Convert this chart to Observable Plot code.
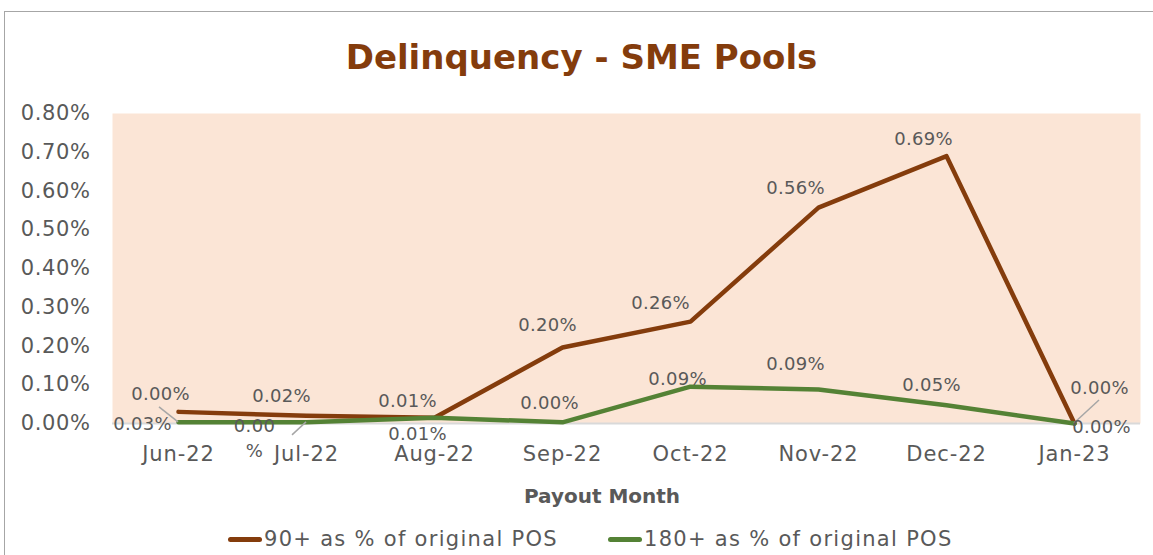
<!DOCTYPE html>
<html>
<head>
<meta charset="utf-8">
<script src="https://cdn.jsdelivr.net/npm/d3@7"></script>
<script src="https://cdn.jsdelivr.net/npm/@observablehq/plot@0.6"></script>
<style>
  html, body { margin: 0; padding: 0; background: #fff; }
  body { width: 1153px; height: 555px; overflow: hidden; position: relative; font-family: "DejaVu Sans", sans-serif; }
  #border { position: absolute; left: 4px; top: 11px; width: 1170px; height: 570px; border: 1.5px solid #A6A6A6; box-sizing: border-box; }
  #chart { position: absolute; left: 0; top: 0; }
  #title { position: absolute; left: 0; width: 1153px; top: 37px; text-align: center; font-weight: bold; font-size: 34px; color: #843C0C; padding-left: 10px; box-sizing: border-box; }
  #xlabel { position: absolute; left: 452px; width: 300px; top: 484px; text-align: center; font-weight: bold; font-size: 20px; color: #595959; }
  .leg { position: absolute; top: 527px; font-size: 21px; letter-spacing: 1.3px; color: #595959; display: flex; align-items: center; white-space: nowrap; }
  .sw { width: 34px; height: 5px; border-radius: 3px; margin-right: 2px; }
  g[aria-label="x-axis tick label"] text { letter-spacing: 0.9px; }
  g[aria-label="y-axis tick label"] text { letter-spacing: 0.6px; }
  g[aria-label="text"] text { letter-spacing: 0.3px; }
</style>
</head>
<body>
<div id="border"></div>
<div id="chart"></div>
<div id="title">Delinquency - SME Pools</div>
<div id="xlabel">Payout Month</div>
<div class="leg" style="left:228px"><div class="sw" style="background:#843C0C"></div>90+ as % of original POS</div>
<div class="leg" style="left:608px"><div class="sw" style="background:#548235"></div>180+ as % of original POS</div>
<script>
const months = ["Jun-22", "Jul-22", "Aug-22", "Sep-22", "Oct-22", "Nov-22", "Dec-22", "Jan-23"];
const dpd90 = [0.0003, 0.0002, 0.00015, 0.00196, 0.00263, 0.00557, 0.00690, 0.0000];
const dpd180 = [0.00003, 0.00003, 0.00015, 0.00003, 0.00095, 0.00088, 0.00047, 0.0000];
const labels90 = ["0.03%", "0.02%", "0.01%", "0.20%", "0.26%", "0.56%", "0.69%", "0.00%"];
const labels180 = ["0.00%", "0.00\n%", "0.01%", "0.00%", "0.09%", "0.09%", "0.05%", "0.00%"];
const yTicks = [0, 0.001, 0.002, 0.003, 0.004, 0.005, 0.006, 0.007, 0.008];

// label placement (pixel offsets from the point), mimicking the spreadsheet's label layout
const off90 = [[-36, 10], [-25, -22], [-27, -19], [-15, -25], [-30, -21], [-23, -22], [-23, -19], [27, 1]];
const off180 = [[-18, -30], [-52, 14], [-17, 14], [-13, -21], [-13, -10], [-23, -27], [-15, -22], [25, -38]];
const leaders = [ // [series, index, from-offset]
  ["180", 0, [-19, -15]],
  ["180", 1, [-14, 13]],
  ["180", 7, [25, -23]]
];

const rows = [];
months.forEach((m, i) => {
  rows.push({month: m, value: dpd90[i], series: "90+ as % of original POS", label: labels90[i], dx: off90[i][0], dy: off90[i][1]});
  rows.push({month: m, value: dpd180[i], series: "180+ as % of original POS", label: labels180[i], dx: off180[i][0], dy: off180[i][1]});
});
const s90 = rows.filter(d => d.series.startsWith("90"));
const s180 = rows.filter(d => d.series.startsWith("180"));

const font = "DejaVu Sans, sans-serif";
const textMarks = rows.map(d => Plot.text([d], {
  x: "month", y: "value", text: "label", dx: d.dx, dy: d.dy,
  fill: "#595959", fontSize: 18, fontFamily: font, lineHeight: 1.4
}));

const leaderMark = (index, scales) => {
  const g = d3.create("svg:g");
  for (const [s, i, [ox, oy]] of leaders) {
    const v = s === "90" ? dpd90[i] : dpd180[i];
    const px = scales.x(months[i]);
    const py = scales.y(v);
    g.append("line")
      .attr("x1", px + ox).attr("y1", py + oy)
      .attr("x2", px).attr("y2", py)
      .attr("stroke", "#A6A6A6").attr("stroke-width", 1.5);
  }
  return g.node();
};

const chart = Plot.plot({
  width: 1153,
  height: 555,
  marginLeft: 112,
  marginRight: 13,
  marginTop: 113,
  marginBottom: 132,
  style: {fontFamily: font, background: "transparent", overflow: "visible"},
  x: {type: "point", domain: months, padding: 0.5, label: null},
  y: {domain: [0, 0.008], label: null},
  marks: [
    Plot.frame({fill: "#FBE5D6", stroke: null}),
    Plot.ruleY([0], {stroke: "#D9D9D9", strokeWidth: 2}),
    Plot.axisY({ticks: yTicks, tickFormat: d3.format(".2%"), tickSize: 0, tickPadding: 22, fontSize: 21, fill: "#595959", label: null}),
    Plot.axisX({tickSize: 0, tickPadding: 23, fontSize: 21, fill: "#595959", label: null}),
    Plot.line(s90, {x: "month", y: "value", stroke: "#843C0C", strokeWidth: 4.5}),
    Plot.line(s180, {x: "month", y: "value", stroke: "#548235", strokeWidth: 4.5}),
    leaderMark,
    ...textMarks
  ]
});
document.getElementById("chart").appendChild(chart);
</script>
</body>
</html>
